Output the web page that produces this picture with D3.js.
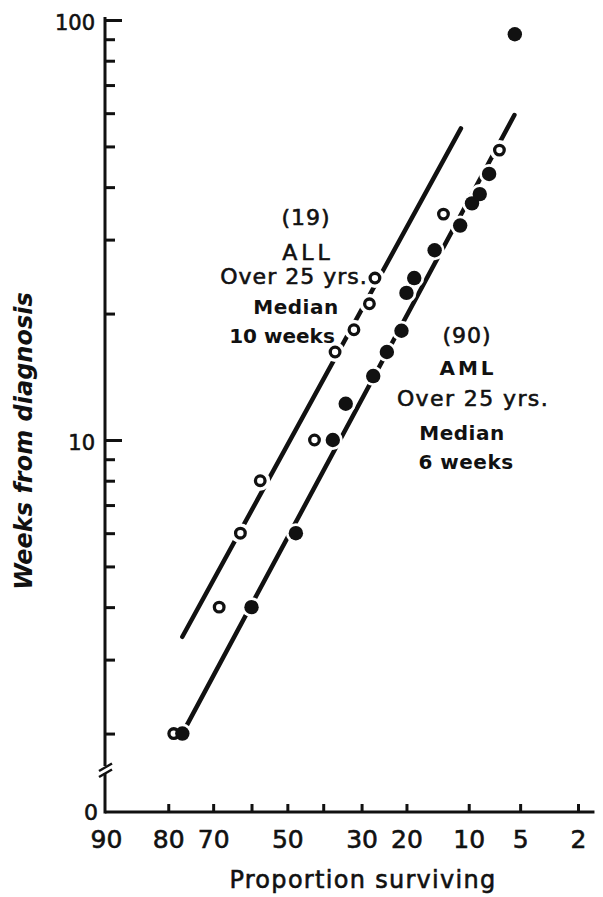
<!DOCTYPE html>
<head>
  <meta charset="utf-8">
  <script src="https://cdn.jsdelivr.net/npm/d3@7"></script>
  <style>
    body { margin: 0; background: #fff; }
    text { font-family: "DejaVu Sans", sans-serif; fill: #111; }
    .heavy { stroke: #111; stroke-width: 0.6px; }
  </style>
</head>
<body>

<svg width="603" height="897"></svg>

<script type="text/javascript">
// Data: proportion surviving (%) and weeks from diagnosis
var allPct   = [78.9, 68.5, 63.0, 57.6, 42.4, 36.8, 31.9, 28.1, 26.8, 13.5, 6.7];
var allWeeks = [2.0, 4.0, 6.0, 8.0, 10.0, 16.2, 18.3, 21.1, 24.3, 34.5, 49.0];

var amlPct   = [77.1, 60.0, 47.6, 37.4, 34.0, 27.2, 24.1, 21.0, 20.0, 18.5, 14.9, 11.1, 9.6, 8.7, 7.7, 5.4];
var amlWeeks = [2.0, 4.0, 6.0, 10.0, 12.2, 14.2, 16.2, 18.2, 22.4, 24.3, 28.3, 32.4, 36.6, 38.5, 43.0, 92.5];

// fitted lines (end points)
var allLinePct = [77.1, 11.0], allLineWeeks = [3.4, 55.2];
var amlLinePct = [77.1, 5.43], amlLineWeeks = [2.0, 59.4];

// axis ticks
var xTickPct    = [90, 80, 70, 60, 50, 40, 30, 20, 10, 5, 2];
var xTickLabels = ["90", "80", "70", "", "50", "", "30", "20", "10", "5", "2"];
var yTicks      = [2, 3, 4, 5, 6, 7, 8, 9, 10, 20, 30, 40, 50, 60, 70, 80, 90, 100];
var yMajor      = [10, 100];

var allNote = ["(19)", "ALL", "Over 25 yrs.", "Median", "10 weeks"];
var amlNote = ["(90)", "AML", "Over 25 yrs.", "Median", "6 weeks"];

// inverse normal cdf (Acklam) -> probability paper
function probit(p) {
  var a = [-39.69683028665376, 220.9460984245205, -275.9285104469687, 138.3577518672690, -30.66479806614716, 2.506628277459239],
      b = [-54.47609879822406, 161.5858368580409, -155.6989798598866, 66.80131188771972, -13.28068155288572],
      c = [-0.007784894002430293, -0.3223964580411365, -2.400758277161838, -2.549732539343734, 4.374664141464968, 2.938163982698783],
      d = [0.007784695709041462, 0.3224671290700398, 2.445134137142996, 3.754408661907416];
  var q, r;
  if (p < 0.02425) {
    q = Math.sqrt(-2 * Math.log(p));
    return (((((c[0]*q+c[1])*q+c[2])*q+c[3])*q+c[4])*q+c[5]) / ((((d[0]*q+d[1])*q+d[2])*q+d[3])*q+1);
  }
  if (p > 1 - 0.02425) {
    q = Math.sqrt(-2 * Math.log(1 - p));
    return -(((((c[0]*q+c[1])*q+c[2])*q+c[3])*q+c[4])*q+c[5]) / ((((d[0]*q+d[1])*q+d[2])*q+d[3])*q+1);
  }
  q = p - 0.5; r = q * q;
  return (((((a[0]*r+a[1])*r+a[2])*r+a[3])*r+a[4])*r+a[5])*q / (((((b[0]*r+b[1])*r+b[2])*r+b[3])*r+b[4])*r+1);
}

var svg = d3.select("svg");

var x0 = 105, yZero = 812;
var xz = d3.scaleLinear().domain([probit(0.90), probit(0.02)]).range([106, 578]);
var y = d3.scaleLog().domain([10, 100]).range([440, 20]);
function px(pct) { return xz(probit(pct / 100)); }

// x axis (ticks point up)
var xAxis = d3.axisBottom(xz)
  .tickValues(xTickPct.map(function(p) { return probit(p / 100); }))
  .tickFormat(function(d, i) { return xTickLabels[i]; })
  .tickSizeInner(-8).tickSizeOuter(0).tickPadding(18);

var gx = svg.append("g").attr("transform", "translate(0," + yZero + ")").call(xAxis);
gx.select(".domain").remove();
gx.selectAll(".tick line").attr("stroke", "#111").attr("stroke-width", 3)
  .filter(function(d, i) { return i === 0; }).remove();
gx.selectAll("text").attr("class", "heavy").style("font-size", "25px").attr("fill", "#111");
svg.append("line")
  .attr("x1", x0).attr("x2", px(1.5)).attr("y1", yZero).attr("y2", yZero)
  .attr("stroke", "#111").attr("stroke-width", 3);

// y axis (log, ticks point right, broken near zero)
var yAxis = d3.axisLeft(y)
  .tickValues(yTicks)
  .tickFormat(function(d) { return yMajor.indexOf(d) >= 0 ? d : ""; })
  .tickSizeInner(-10).tickSizeOuter(0).tickPadding(10);

var gy = svg.append("g").attr("transform", "translate(" + x0 + ",0)").call(yAxis);
gy.select(".domain").remove();
gy.selectAll(".tick line").attr("stroke", "#111").attr("stroke-width", 3)
  .attr("x2", function(d) { return yMajor.indexOf(d) >= 0 ? 17 : 10; });
gy.selectAll("text").attr("class", "heavy").style("font-size", "21px").attr("dy", "0.45em").attr("fill", "#111");

var breakTop = 766, breakBot = 773;
svg.append("line").attr("x1", x0).attr("x2", x0).attr("y1", y(100) - 3).attr("y2", breakTop)
  .attr("stroke", "#111").attr("stroke-width", 3);
svg.append("line").attr("x1", x0).attr("x2", x0).attr("y1", breakBot).attr("y2", yZero + 1.5)
  .attr("stroke", "#111").attr("stroke-width", 3);
[0, 6].forEach(function(off) {
  svg.append("line")
    .attr("x1", x0 - 6).attr("y1", breakTop + 5 + off)
    .attr("x2", x0 + 7).attr("y2", breakTop - 2.5 + off)
    .attr("stroke", "#111").attr("stroke-width", 2.5);
});
svg.append("text").attr("class", "heavy").attr("x", x0 - 7).attr("y", yZero).attr("dy", "0.38em")
  .attr("text-anchor", "end").style("font-size", "22px").text("0");

// axis titles
svg.append("text").attr("class", "heavy")
  .attr("x", 363).attr("y", 888).attr("text-anchor", "middle")
  .style("font-size", "24px").style("letter-spacing", "1.3px")
  .text("Proportion surviving");

svg.append("text")
  .attr("transform", "translate(32,441) rotate(-90)")
  .attr("text-anchor", "middle")
  .style("font-size", "24px").style("font-weight", "bold").style("font-style", "italic")
  .text("Weeks from diagnosis");

// fitted lines
var line = d3.line().x(function(d) { return px(d[0]); }).y(function(d) { return y(d[1]); });
[[allLinePct, allLineWeeks], [amlLinePct, amlLineWeeks]].forEach(function(l) {
  svg.append("path")
    .datum(d3.zip(l[0], l[1]))
    .attr("d", line)
    .attr("fill", "none").attr("stroke", "#111")
    .attr("stroke-width", 4.5).attr("stroke-linecap", "round");
});

var allPts = d3.zip(allPct, allWeeks), amlPts = d3.zip(amlPct, amlWeeks);

// white halos break the lines around the points
svg.append("g").selectAll("circle").data(allPts.concat(amlPts)).join("circle")
  .attr("cx", function(d) { return px(d[0]); })
  .attr("cy", function(d) { return y(d[1]); })
  .attr("r", 10).attr("fill", "#fff");

svg.append("g").selectAll("circle").data(allPts).join("circle")
  .attr("cx", function(d) { return px(d[0]); })
  .attr("cy", function(d) { return y(d[1]); })
  .attr("r", 4.8).attr("fill", "#fff").attr("stroke", "#111").attr("stroke-width", 3.3);

svg.append("g").selectAll("circle").data(amlPts).join("circle")
  .attr("cx", function(d) { return px(d[0]); })
  .attr("cy", function(d) { return y(d[1]); })
  .attr("r", 7.2).attr("fill", "#111");

// annotations
function note(lines, cx, baselines, styles) {
  lines.forEach(function(t, i) {
    var s = styles[i];
    svg.append("text")
      .attr("class", s[1] === "bold" ? null : "heavy")
      .attr("x", cx[i]).attr("y", baselines[i]).attr("text-anchor", "middle")
      .style("font-size", s[0] + "px").style("font-weight", s[1])
      .style("letter-spacing", s[2] + "px")
      .text(t);
  });
}
note(allNote, [306, 308, 294, 296, 282], [225, 260, 284, 314, 343],
  [[22, "normal", 1], [22, "normal", 4], [22, "normal", 1], [20, "bold", 0.5], [20, "bold", 0]]);
note(amlNote, [467, 468, 473, 462, 466], [343, 375, 406, 440, 469],
  [[22, "normal", 1], [20, "bold", 3], [22, "normal", 1.4], [20, "bold", 0.5], [20, "bold", 0.5]]);
</script>
</body>
</html>
